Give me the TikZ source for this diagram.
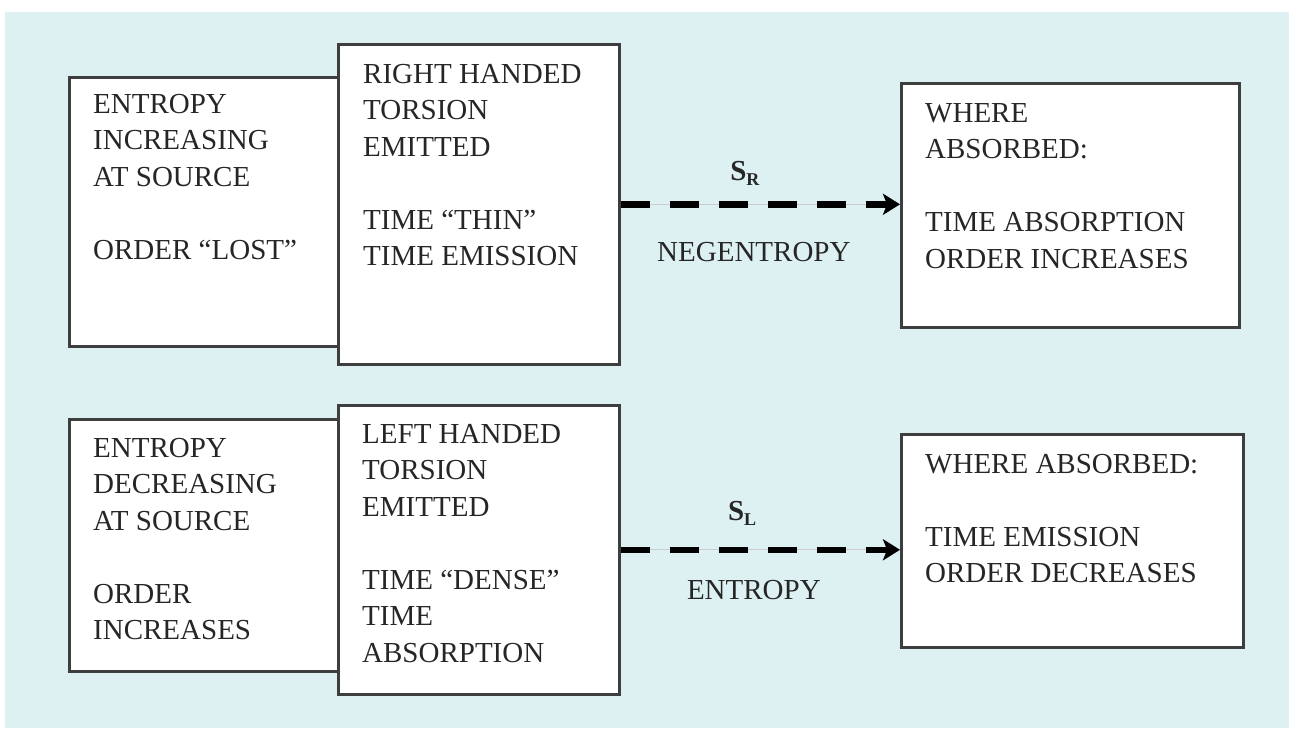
\documentclass[tikz,border=0pt]{standalone}
\usepackage{fontspec}
\setmainfont{Liberation Serif}
\usetikzlibrary{positioning,arrows.meta}

\definecolor{paneback}{RGB}{221,240,242}
\definecolor{boxedge}{RGB}{62,62,62}
\definecolor{inktext}{RGB}{38,38,38}

\begin{document}
\begin{tikzpicture}[x=1pt, y=-1pt,
        stagebox/.style={draw=boxedge, line width=2.6pt, fill=white, inner sep=0pt, anchor=north west},
        stagetext/.style={align=left, inner sep=0pt, text=inktext, font=\fontsize{29}{36.5}\selectfont},
        flowlabel/.style={inner sep=0pt, text=inktext, font=\fontsize{29}{36.5}\selectfont},
        flowarrow/.style={line width=6.5pt, dash pattern=on 29pt off 20pt, -{Stealth[length=17pt, width=21pt, inset=4pt]}},
        flowtrace/.style={gray!40, line width=0.8pt}]
    \useasboundingbox (0,0) rectangle (1289,728);
    \fill[white] (0,0) rectangle (1289,728);
    \fill[paneback] (5,12) rectangle (1289,728);

    % right handed row
    \node[stagebox, minimum width=269pt, minimum height=269pt] (srcR) at (68,76) {};
    \node[stagebox, minimum width=281pt, minimum height=320pt] (emitR) at (337,43) {};
    \node[stagebox, minimum width=338pt, minimum height=244pt] (sinkR) at (900,82) {};

    \node[stagetext, below right=18pt and 25pt of srcR.north west] (srcRtxt)
        {ENTROPY\\ INCREASING\\ AT SOURCE\\[36.5pt] ORDER ``LOST''};
    \node[stagetext, below right=21pt and 26pt of emitR.north west] (emitRtxt)
        {RIGHT HANDED\\ TORSION\\ EMITTED\\[36.5pt] TIME ``THIN''\\ TIME EMISSION};
    \node[stagetext, below right=21pt and 25pt of sinkR.north west] (sinkRtxt)
        {WHERE\\ ABSORBED:\\[36.5pt] TIME ABSORPTION\\ ORDER INCREASES};

    \draw[flowtrace] (emitR.east) -- (emitR.east -| sinkR.west);
    \draw[flowarrow] (emitR.east) -- (emitR.east -| sinkR.west)
        node[flowlabel, pos=0.445, above=16pt] (labSR)
            {\textbf{S}\raisebox{-5pt}{\fontsize{18}{18}\selectfont\textbf{R}}}
        node[flowlabel, pos=0.477, below=35pt] (labNeg) {NEGENTROPY};

    % left handed row
    \node[stagebox, minimum width=269pt, minimum height=252pt] (srcL) at (68,418) {};
    \node[stagebox, minimum width=281pt, minimum height=289pt] (emitL) at (337,404) {};
    \node[stagebox, minimum width=342pt, minimum height=213pt] (sinkL) at (900,433) {};

    \node[stagetext, below right=20pt and 25pt of srcL.north west] (srcLtxt)
        {ENTROPY\\ DECREASING\\ AT SOURCE\\[36.5pt] ORDER\\ INCREASES};
    \node[stagetext, below right=20pt and 25pt of emitL.north west] (emitLtxt)
        {LEFT HANDED\\ TORSION\\ EMITTED\\[36.5pt] TIME ``DENSE''\\ TIME\\ ABSORPTION};
    \node[stagetext, below right=21pt and 25pt of sinkL.north west] (sinkLtxt)
        {WHERE ABSORBED:\\[36.5pt] TIME EMISSION\\ ORDER DECREASES};

    \draw[flowtrace] (emitL.east) -- (emitL.east -| sinkL.west);
    \draw[flowarrow] (emitL.east) -- (emitL.east -| sinkL.west)
        node[flowlabel, pos=0.435, above=21pt] (labSL)
            {\textbf{S}\raisebox{-5pt}{\fontsize{18}{18}\selectfont\textbf{L}}}
        node[flowlabel, pos=0.477, below=27pt] (labEnt) {ENTROPY};
\end{tikzpicture}
\end{document}
